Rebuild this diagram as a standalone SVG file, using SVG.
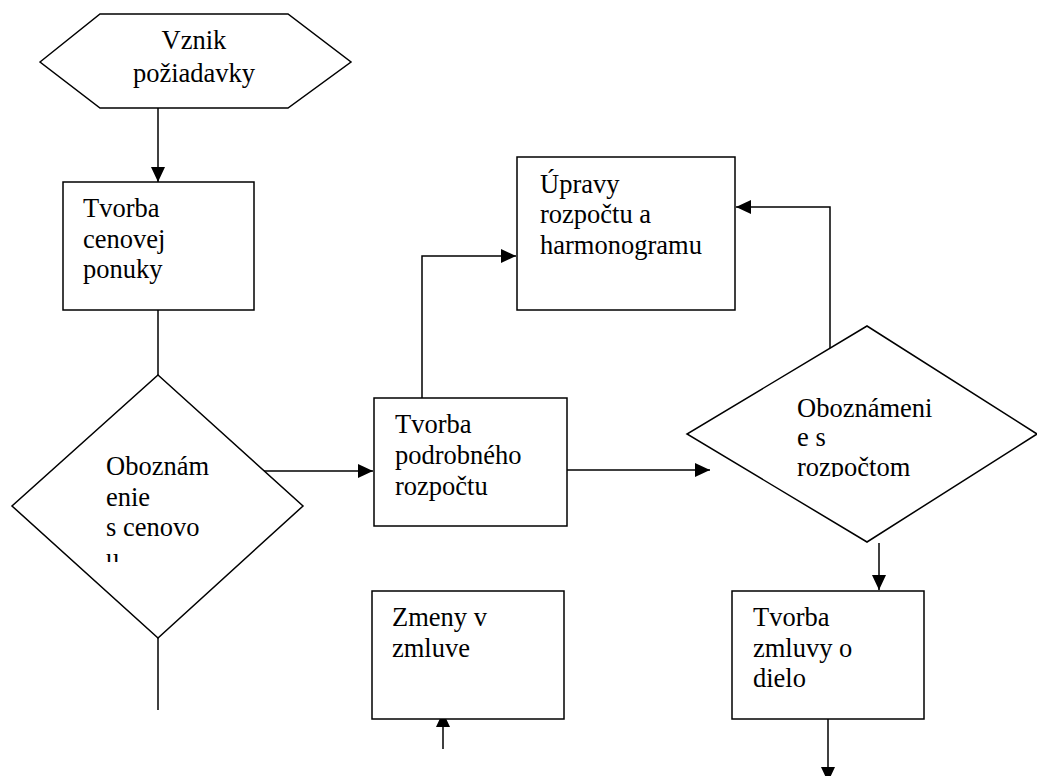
<svg xmlns="http://www.w3.org/2000/svg" width="1037" height="776" viewBox="0 0 1037 776">
<style>
.s{fill:#fff;stroke:#000;stroke-width:1.5}
.c{fill:none;stroke:#000;stroke-width:1.5}
.t{font-family:'Liberation Serif','Times New Roman',serif;font-size:26.5px;fill:#000}
</style>
<defs>
<marker id="a" markerUnits="userSpaceOnUse" markerWidth="16" markerHeight="14" refX="15" refY="7" orient="auto"><path d="M0,0 L15,7 L0,14 Z" fill="#000"/></marker>
<clipPath id="k1"><rect x="90" y="440" width="140" height="122"/></clipPath>
<clipPath id="k2"><rect x="780" y="380" width="180" height="97"/></clipPath>
</defs>
<rect width="1037" height="776" fill="#fff"/>
<g id="connectors">
<line class="c" x1="158" y1="108" x2="158" y2="182" marker-end="url(#a)"/>
<line class="c" x1="158" y1="303" x2="158" y2="375"/>
<line class="c" x1="263" y1="471" x2="373" y2="471" marker-end="url(#a)"/>
<line class="c" x1="158" y1="638" x2="158" y2="710"/>
<polyline class="c" points="422,398 422,256 516,256" marker-end="url(#a)"/>
<line class="c" x1="567" y1="470" x2="710" y2="470" marker-end="url(#a)"/>
<polyline class="c" points="830,348 830,207 736,207" marker-end="url(#a)"/>
<line class="c" x1="879" y1="543" x2="879" y2="590" marker-end="url(#a)"/>
<line class="c" x1="443" y1="749" x2="443" y2="712" marker-end="url(#a)"/>
<line class="c" x1="828" y1="712" x2="828" y2="782" marker-end="url(#a)"/>
</g>
<g id="n1" class="t"><polygon class="s" points="40,62 100,14 288,14 351,62 288,108 100,108"/><text x="194" y="49" text-anchor="middle">Vznik</text><text x="194" y="82" text-anchor="middle">požiadavky</text></g>
<g id="n2" class="t"><rect class="s" x="63" y="182" width="191" height="128"/><text x="83" y="217">Tvorba</text><text x="83" y="248">cenovej</text><text x="83" y="278">ponuky</text></g>
<g id="n3" class="t"><polygon class="s" points="158,375 303,506 158,638 12,506"/><g clip-path="url(#k1)"><text x="106" y="475">Oboznám</text><text x="106" y="506">enie</text><text x="106" y="536">s cenovo</text><text x="106" y="567">u</text></g></g>
<g id="n4" class="t"><rect class="s" x="374" y="398" width="193" height="128"/><text x="395" y="433">Tvorba</text><text x="395" y="464">podrobného</text><text x="395" y="495">rozpočtu</text></g>
<g id="n5" class="t"><rect class="s" x="517" y="157" width="218" height="153"/><text x="540" y="193">Úpravy</text><text x="540" y="223">rozpočtu a</text><text x="540" y="254">harmonogramu</text></g>
<g id="n6" class="t"><polygon class="s" points="867,326 1037,434 867,542 687,434"/><g clip-path="url(#k2)"><text x="797" y="417">Oboznámeni</text><text x="797" y="446">e s</text><text x="797" y="476">rozpočtom</text></g></g>
<g id="n7" class="t"><rect class="s" x="372" y="591" width="192" height="128"/><text x="392" y="626">Zmeny v</text><text x="392" y="657">zmluve</text></g>
<g id="n8" class="t"><rect class="s" x="732" y="591" width="192" height="128"/><text x="753" y="626">Tvorba</text><text x="753" y="657">zmluvy o</text><text x="753" y="687">dielo</text></g>
</svg>
